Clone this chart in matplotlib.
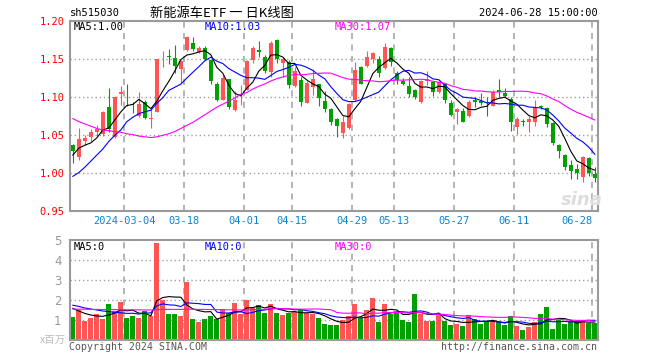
import numpy as np
import pandas as pd
import matplotlib
matplotlib.use("Agg")
import matplotlib.pyplot as plt

# daily candles, 2024-02-20 .. 2024-06-28 (88 sessions)
opens = [1.037, 1.021, 1.043, 1.048, 1.054, 1.052, 1.087, 1.048, 1.105, 1.101,
         1.089, 1.075, 1.094, 1.072, 1.081, 1.155, 1.154, 1.152, 1.137, 1.162,
         1.172, 1.160, 1.165, 1.149, 1.118, 1.097, 1.124, 1.083, 1.103, 1.110,
         1.149, 1.162, 1.153, 1.133, 1.175, 1.145, 1.146, 1.115, 1.123, 1.093,
         1.114, 1.117, 1.095, 1.084, 1.071, 1.053, 1.060, 1.096, 1.140, 1.141,
         1.151, 1.150, 1.138, 1.165, 1.132, 1.122, 1.115, 1.110, 1.094, 1.121,
         1.120, 1.107, 1.118, 1.093, 1.081, 1.082, 1.075, 1.096, 1.095, 1.094,
         1.089, 1.109, 1.106, 1.098, 1.061, 1.069, 1.068, 1.068, 1.088, 1.086,
         1.066, 1.037, 1.024, 1.011, 1.006, 0.995, 1.020, 0.999]
highs = [1.038, 1.060, 1.050, 1.058, 1.063, 1.082, 1.112, 1.102, 1.115, 1.117,
         1.094, 1.107, 1.096, 1.084, 1.151, 1.161, 1.163, 1.169, 1.149, 1.181,
         1.180, 1.167, 1.168, 1.151, 1.120, 1.130, 1.124, 1.108, 1.116, 1.149,
         1.167, 1.174, 1.156, 1.174, 1.177, 1.153, 1.149, 1.140, 1.127, 1.121,
         1.137, 1.118, 1.108, 1.086, 1.073, 1.075, 1.093, 1.147, 1.141, 1.161,
         1.159, 1.154, 1.171, 1.166, 1.134, 1.126, 1.127, 1.111, 1.123, 1.134,
         1.122, 1.122, 1.119, 1.097, 1.086, 1.086, 1.096, 1.100, 1.106, 1.100,
         1.109, 1.124, 1.112, 1.101, 1.074, 1.072, 1.076, 1.096, 1.090, 1.087,
         1.067, 1.039, 1.025, 1.0175, 1.012, 1.023, 1.022, 1.008]
lows = [1.013, 1.017, 1.037, 1.042, 1.049, 1.049, 1.055, 1.046, 1.090, 1.088,
        1.079, 1.074, 1.071, 1.059, 1.080, 1.140, 1.144, 1.132, 1.119, 1.161,
        1.161, 1.158, 1.149, 1.118, 1.095, 1.096, 1.084, 1.082, 1.090, 1.109,
        1.145, 1.153, 1.132, 1.127, 1.145, 1.127, 1.112, 1.113, 1.089, 1.092,
        1.103, 1.089, 1.081, 1.063, 1.048, 1.047, 1.058, 1.095, 1.117, 1.140,
        1.145, 1.127, 1.137, 1.141, 1.118, 1.116, 1.100, 1.098, 1.093, 1.116,
        1.102, 1.106, 1.093, 1.075, 1.065, 1.067, 1.074, 1.087, 1.090, 1.075,
        1.088, 1.100, 1.100, 1.056, 1.052, 1.062, 1.055, 1.062, 1.085, 1.061,
        1.037, 1.020, 1.005, 0.993, 0.993, 0.988, 0.997, 0.988]
closes = [1.029, 1.045, 1.047, 1.054, 1.058, 1.081, 1.058, 1.100, 1.107, 1.100,
          1.088, 1.091, 1.073, 1.073, 1.150, 1.156, 1.153, 1.141, 1.148, 1.180,
          1.164, 1.165, 1.150, 1.121, 1.097, 1.125, 1.087, 1.096, 1.104, 1.148,
          1.165, 1.159, 1.134, 1.172, 1.150, 1.150, 1.116, 1.135, 1.094, 1.119,
          1.124, 1.099, 1.084, 1.068, 1.062, 1.067, 1.091, 1.136, 1.118, 1.153,
          1.158, 1.132, 1.166, 1.147, 1.123, 1.118, 1.104, 1.100, 1.122, 1.124,
          1.107, 1.120, 1.096, 1.077, 1.085, 1.068, 1.094, 1.094, 1.093, 1.092,
          1.107, 1.107, 1.102, 1.068, 1.071, 1.068, 1.071, 1.087, 1.0875, 1.065,
          1.040, 1.029, 1.008, 1.003, 1.001, 1.022, 1.001, 0.994]
# volume in millions
volumes = [1.15, 1.48, 0.97, 1.08, 1.32, 1.07, 1.82, 1.45, 1.88, 1.08,
           1.22, 1.08, 1.43, 1.22, 4.86, 2.02, 1.32, 1.32, 1.18, 2.92,
           1.03, 0.88, 1.03, 1.22, 1.05, 1.54, 1.34, 1.85, 1.29, 2.00,
           1.62, 1.74, 1.34, 1.78, 1.34, 1.24, 1.34, 1.40, 1.49, 1.34,
           1.29, 1.10, 0.82, 0.74, 0.73, 0.98, 1.20, 1.82, 1.10, 1.52,
           2.10, 0.90, 1.82, 1.32, 1.37, 0.98, 0.90, 2.32, 1.32, 0.93,
           0.93, 1.23, 0.93, 0.73, 0.82, 0.68, 1.27, 1.03, 0.82, 0.90,
           0.90, 0.90, 0.73, 1.20, 0.70, 0.48, 0.65, 0.90, 1.32, 1.65,
           0.57, 0.98, 0.82, 0.93, 0.90, 0.93, 0.87, 0.87]

# moving averages at the left edge depend on days before the window
price_ma5_head = [1.024, 1.033, 1.037, 1.040]
price_ma10_head = [0.996, 1.001, 1.008, 1.016, 1.024, 1.032, 1.042, 1.050, 1.057]
price_ma30_head = [1.072, 1.068, 1.065, 1.062, 1.059, 1.057, 1.056, 1.055, 1.054, 1.052,
                   1.051, 1.049, 1.048, 1.047, 1.048, 1.050, 1.052, 1.055, 1.059, 1.063,
                   1.067, 1.072, 1.077, 1.082, 1.087, 1.091, 1.095, 1.099, 1.104]
vol_ma5_head = [1.58, 1.45, 1.33, 1.25]
vol_ma10_head = [1.74, 1.68, 1.60, 1.55, 1.50, 1.45, 1.42, 1.38, 1.36]
vol_ma30_head = [1.55, 1.54, 1.54, 1.53, 1.53, 1.52, 1.52, 1.52, 1.51, 1.51,
                 1.51, 1.51, 1.50, 1.50, 1.52, 1.53, 1.53, 1.53, 1.53, 1.54,
                 1.54, 1.53, 1.53, 1.52, 1.52, 1.51, 1.51, 1.51, 1.50]

date_idx = [9, 19, 29, 37, 47, 54, 64, 74, 87]
date_labels = ["2024-03-04", "03-18", "04-01", "04-15", "04-29",
               "05-13", "05-27", "06-11", "06-28"]
price_ticks = [1.20, 1.15, 1.10, 1.05, 1.00, 0.95]
vol_ticks = [1, 2, 3, 4, 5]

RED = "#ff5555"
GREEN = "#00a000"
GRID = "#a0a0a0"
MONO = "DejaVu Sans Mono"
CJK = ["Noto Sans CJK SC", "DejaVu Sans"]

W, H = 660, 360


def fx(px):
    return px / W


def fy(py):
    return 1 - py / H


def moving_avg(values, n, head):
    s = pd.Series(values, dtype=float).rolling(n).mean()
    s.iloc[:len(head)] = head
    return s.values


def style_panel(ax, hlines, ylim):
    ax.set_xlim(-0.47, 87.53)
    ax.set_ylim(*ylim)
    for sp in ax.spines.values():
        sp.set_color("#9a9a9a")
        sp.set_linewidth(1.5)
    for y in hlines:
        ax.axhline(y, color=GRID, ls=(0, (1, 2)), lw=1.0, zorder=1)
    for i in date_idx:
        ax.axvline(i - 0.4, color=GRID, ls=(0, (4, 3.5)), lw=1.1, zorder=1)
    ax.set_xticks([])


o = np.array(opens)
c = np.array(closes)
hi = np.array(highs)
lo = np.array(lows)
v = np.array(volumes)
x = np.arange(len(c))
colors = np.where(c >= o, RED, GREEN)

fig = plt.figure(figsize=(6.6, 3.6), dpi=100)

# price panel
ax = fig.add_axes([fx(70), fy(211.3), fx(528), 190 / H])
style_panel(ax, [1.15, 1.10, 1.05, 1.00], (0.95, 1.20))
ax.vlines(x, lo, hi, color=colors, lw=0.8, zorder=2)
ax.bar(x, np.maximum(np.abs(c - o), 0.0006), bottom=np.minimum(o, c),
       width=0.75, color=colors, linewidth=0, zorder=3)
ax.plot(x, moving_avg(c, 5, price_ma5_head), color="black", lw=0.8, zorder=4)
ax.plot(x, moving_avg(c, 10, price_ma10_head), color="#0000ff", lw=0.8, zorder=4)
ax.plot(x, moving_avg(c, 30, price_ma30_head), color="#ff00ff", lw=0.8, zorder=4)
ax.set_yticks(price_ticks)
ax.set_yticklabels([f"{t:.2f}" for t in price_ticks], color="red", family=MONO, fontsize=7.5)
ax.tick_params(axis="y", length=0, pad=4)
for i, lab in zip(date_idx, date_labels):
    xpos, ha = (i - 0.4, "center") if i < 87 else (86.6, "right")
    ax.text(xpos, -0.052, lab, transform=ax.get_xaxis_transform(), ha=ha, va="center",
            color="#0a84d0", family=MONO, fontsize=7.5)

# volume panel
axv = fig.add_axes([fx(70), fy(340), fx(528), 100 / H])
style_panel(axv, [1, 2, 3, 4], (0, 5))
axv.bar(x, v, width=0.83, color=colors, linewidth=0, zorder=2)
axv.plot(x, moving_avg(v, 5, vol_ma5_head), color="black", lw=0.8, zorder=4)
axv.plot(x, moving_avg(v, 10, vol_ma10_head), color="#0000ff", lw=0.8, zorder=4)
axv.plot(x, moving_avg(v, 30, vol_ma30_head), color="#ff00ff", lw=0.8, zorder=4)
axv.set_yticks(vol_ticks)
axv.set_yticklabels([str(t) for t in vol_ticks], color="#999999", fontsize=8.5)
axv.tick_params(axis="y", length=0, pad=6)

# header and legends
fig.text(fx(70), fy(13), "sh515030", family=MONO, fontsize=7.5, va="center")
fig.text(fx(222), fy(13), "新能源车ETF 一 日K线图", family=CJK, fontsize=9.5,
         va="center", ha="center")
fig.text(fx(598), fy(13), "2024-06-28 15:00:00", family=MONO, fontsize=7.5,
         va="center", ha="right")
for px, txt, col in [(74, "MA5:1.00", "black"), (205, "MA10:1.03", "#0000ff"),
                     (335, "MA30:1.07", "#ff00ff")]:
    fig.text(fx(px), fy(26.5), txt, color=col, family=MONO, fontsize=7.5, va="center")
for px, txt, col in [(74, "MA5:0", "black"), (205, "MA10:0", "#0000ff"),
                     (335, "MA30:0", "#ff00ff")]:
    fig.text(fx(px), fy(246.5), txt, color=col, family=MONO, fontsize=7.5, va="center")

fig.text(fx(66), fy(340), "x百万", family=CJK, fontsize=7.5, color="#bbbbbb",
         va="center", ha="right")
fig.text(fx(69), fy(347.5), "Copyright 2024 SINA.COM", family=MONO, fontsize=7.1,
         color="#555555", va="center")
fig.text(fx(597), fy(347.5), "http://finance.sina.com.cn", family=MONO, fontsize=7.1,
         color="#555555", va="center", ha="right")
fig.text(fx(582), fy(200), "sina", fontsize=13, style="italic", weight="bold",
         color="#dddddd", ha="center", va="center")

fig.savefig("out.png", dpi=100)
